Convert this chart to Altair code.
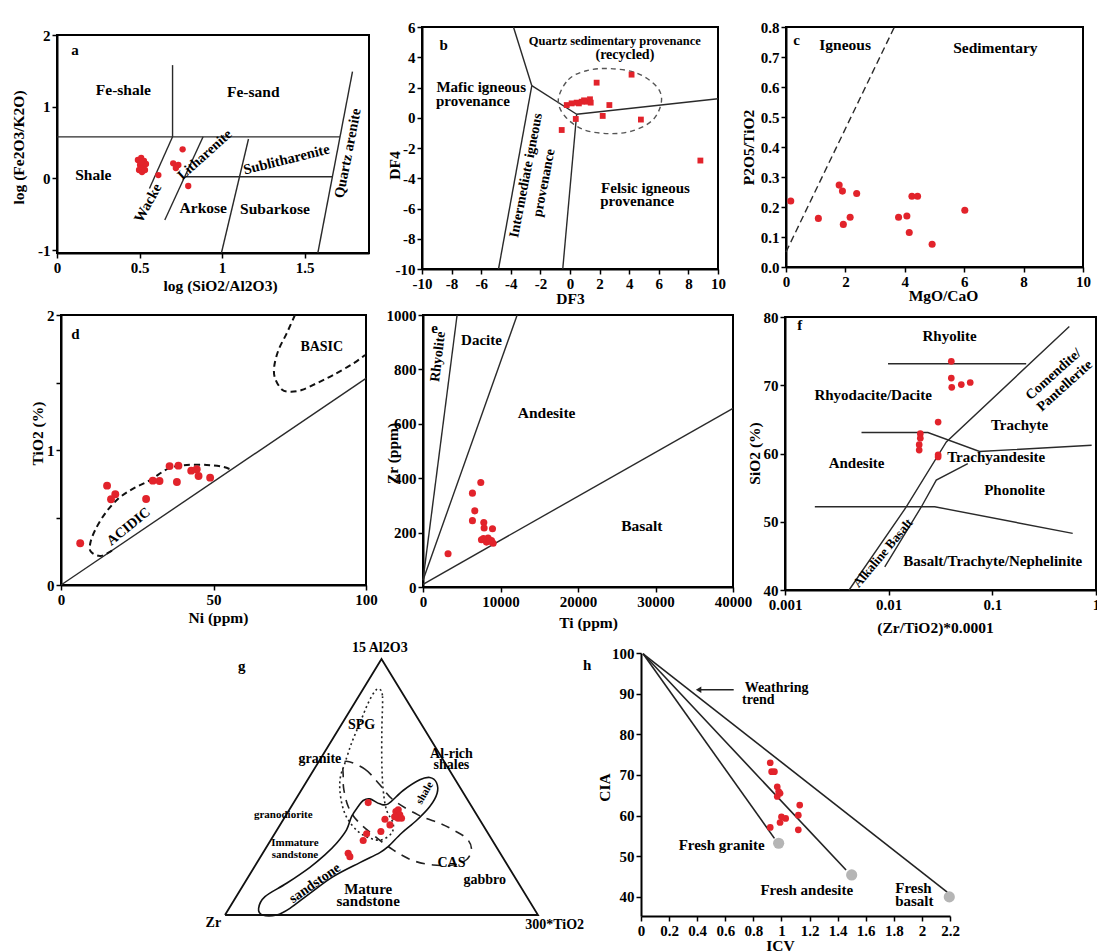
import altair as alt
import pandas as pd

W, H = 1097, 952
RED = "#e2232b"
GREY = "#b5b5b5"
INK = "#2a2a2a"
FONT = "Liberation Serif"

# ---------------- sample values ----------------
# a: log(SiO2/Al2O3) vs log(Fe2O3/K2O)
a_x = [0.49, 0.51, 0.527, 0.503, 0.521, 0.539, 0.497, 0.515, 0.533, 0.509, 0.614, 0.704, 0.735, 0.72, 0.761, 0.795]
a_y = [0.257, 0.285, 0.243, 0.187, 0.173, 0.201, 0.117, 0.089, 0.117, 0.229, 0.047, 0.211, 0.187, 0.145, 0.406, -0.106]
# b: DF3 vs DF4
b_x = [-0.22, 0.11, 0.45, 0.79, 1.13, 1.35, 1.40, 1.80, 2.66, 2.21, 0.39, -0.56, 4.16, 4.79, 8.81, 0.60, 0.95]
b_y = [0.84, 0.95, 1.00, 1.06, 1.06, 1.22, 1.00, 2.32, 0.84, 0.12, -0.08, -0.81, 2.85, -0.12, -2.83, 0.95, 1.15]
# c: MgO/CaO vs P2O5/TiO2
c_x = [0.16, 1.09, 1.79, 1.90, 1.93, 2.16, 2.38, 3.79, 4.07, 4.15, 4.24, 4.43, 4.92, 6.02]
c_y = [0.22, 0.162, 0.273, 0.253, 0.142, 0.166, 0.245, 0.166, 0.170, 0.115, 0.236, 0.236, 0.076, 0.189]
# d: Ni vs TiO2
d_x = [6.3, 15.1, 16.4, 17.8, 27.9, 30.1, 32.3, 35.6, 38.0, 38.5, 42.7, 44.5, 45.1, 48.9]
d_y = [0.309, 0.736, 0.635, 0.672, 0.637, 0.773, 0.770, 0.881, 0.763, 0.884, 0.847, 0.857, 0.807, 0.795]
# e: Ti vs Zr
e_x = [3233, 6379, 7457, 6681, 6379, 7845, 7888, 8966, 7543, 7974, 8405, 8836, 8190, 9052, 8400, 7800, 8600]
e_y = [122, 345, 384, 280, 244, 237, 217, 214, 174, 174, 174, 171, 165, 161, 180, 178, 168]
# f: (Zr/TiO2)*0.0001 vs SiO2
f_x = [0.0402, 0.0402, 0.0406, 0.0502, 0.0612, 0.030, 0.0202, 0.0202, 0.0197, 0.0197, 0.030, 0.030]
f_y = [73.5, 71.05, 69.7, 70.1, 70.4, 64.6, 62.9, 62.25, 61.3, 60.5, 59.8, 59.5]
# g: ternary 15Al2O3 / 300TiO2 shares in percent (Zr is the remainder)
g_al = [43.9, 40.4, 41.1, 39.1, 37.8, 37.8, 38.4, 37.4, 35.2, 32.6, 31.7, 29.1, 24.1, 22.8]
g_ti = [23.8, 34.4, 34.8, 36.3, 37.5, 36.4, 35.0, 32.4, 35.1, 33.5, 29.4, 29.6, 27.3, 28.5]
# h: ICV vs CIA
h_x = [0.92, 0.93, 0.95, 0.97, 0.98, 0.99, 0.97, 1.00, 1.03, 0.99, 1.12, 1.13, 1.12, 0.92]
h_y = [73.0, 70.8, 70.8, 67.1, 65.9, 65.5, 64.7, 59.7, 59.3, 58.3, 60.1, 62.6, 56.5, 57.1]
fresh_x = [0.98, 1.50, 2.195]
fresh_y = [53.2, 45.4, 40.0]

# ---------------- field boundaries ----------------
a_bounds = {
    "top": [(0, 0.58), (1.714, 0.58)],
    "fe": [(0.70, 0.58), (0.70, 1.58)],
    "wacke_l": [(0.70, 0.58), (0.56, -0.14)],
    "wacke_r": [(0.885, 0.58), (0.653, -0.58)],
    "sublith": [(0.996, -1.04), (1.16, 0.55)],
    "mid": [(0.776, 0.024), (1.668, 0.024)],
    "quartz": [(1.58, -1.04), (1.79, 1.49)],
}
b_bounds = {
    "q": [(-3.82, 6), (-2.58, 2.12)],
    "m": [(-2.58, 2.12), (0.45, 0.23)],
    "i1": [(-2.58, 2.12), (-4.83, -10)],
    "i2": [(0.45, 0.23), (-0.49, -10)],
    "f": [(0.45, 0.23), (10, 1.26)],
}
b_cluster = {"ring": [(-0.79, 1.20), (-0.11, 2.52), (1.12, 3.11), (2.70, 3.25), (4.49, 2.96), (5.84, 2.08),
                      (6.18, 1.09), (5.62, -0.12), (4.27, -0.85), (2.70, -1.05), (0.90, -0.78), (-0.34, 0.10)]}
c_bounds = {"div": [(0, 0.05), (3.65, 0.8)]}
d_bounds = {"div": [(0, 0), (100, 1.53)]}
d_fields = {
    "acidic": [(16.7, 0.254), (12.9, 0.215), (9.8, 0.247), (9.6, 0.309), (11.2, 0.407), (14.5, 0.531),
               (18.9, 0.642), (23.8, 0.716), (29.3, 0.778), (35.3, 0.864), (41.3, 0.889), (47.8, 0.889),
               (52.7, 0.877), (55.5, 0.857)],
    "basic": [(76.7, 2.0), (74.0, 1.864), (71.3, 1.74), (69.9, 1.617), (70.2, 1.53), (72.4, 1.449),
              (75.1, 1.432), (78.9, 1.444), (83.8, 1.494), (89.3, 1.556), (95.9, 1.642), (99.7, 1.704)],
}
e_bounds = {
    "r": [(0, 25), (4400, 1000)],
    "d": [(0, 25), (12150, 1000)],
    "b": [(0, 10), (40000, 657)],
}
f_bounds = {
    "rhy": [(0.00986, 73.15), (0.212, 73.15)],
    "and": [(0.00547, 63.07), (0.0239, 63.07), (0.0753, 60.3), (0.908, 61.2)],
    "alk_l": [(0.553, 78.6), (0.0360, 61.7), (0.01483, 52.2), (0.00415, 40.0)],
    "alk_r": [(0.058, 58.5), (0.0288, 56.1), (0.0207, 52.2), (0.00917, 43.4)],
    "bas": [(0.00194, 52.2), (0.0278, 52.2), (0.596, 48.3)],
}
g_triangle = {"tri": [(0, 0), (1, 0), (0.5, 1), (0, 0)]}
g_spg = {"spg": [(0.4926, 0.8827), (0.5032, 0.8540), (0.5011, 0.7236), (0.5011, 0.5932), (0.5053, 0.4889),
                 (0.5160, 0.4107), (0.5372, 0.3585), (0.5319, 0.3194), (0.5, 0.2934), (0.4628, 0.2999),
                 (0.4255, 0.3259), (0.3936, 0.3716), (0.3755, 0.4237), (0.3670, 0.4889), (0.3691, 0.5411),
                 (0.3830, 0.5932), (0.4043, 0.6714), (0.4309, 0.7497), (0.4574, 0.8279), (0.4787, 0.8735)]}
g_cas = {"cas": [(0.3830, 0.5997), (0.4468, 0.5698), (0.4947, 0.5085), (0.5372, 0.4498), (0.6170, 0.3911),
                 (0.6862, 0.3585), (0.7287, 0.3325), (0.7713, 0.2999), (0.7872, 0.2608), (0.7734, 0.2177),
                 (0.7287, 0.1956), (0.6649, 0.1956), (0.6011, 0.2125), (0.5372, 0.2542), (0.4734, 0.3129),
                 (0.4202, 0.3716), (0.3936, 0.4237), (0.3798, 0.4889), (0.3777, 0.5411)]}
g_sed = {"sed": [(0.4255, 0.4237), (0.4415, 0.4472), (0.4628, 0.4537), (0.4947, 0.4342), (0.5213, 0.4342),
                 (0.5691, 0.4863), (0.6223, 0.5280), (0.6543, 0.5372), (0.6755, 0.5176), (0.6777, 0.4759),
                 (0.6543, 0.4237), (0.6117, 0.3690), (0.5638, 0.3194), (0.5213, 0.2673), (0.4947, 0.2438),
                 (0.4309, 0.2047), (0.3457, 0.1499), (0.2713, 0.0847), (0.2074, 0.0261), (0.1649, 0.0),
                 (0.1202, 0.0), (0.1074, 0.0261), (0.1277, 0.0717), (0.1968, 0.1239), (0.2713, 0.1864),
                 (0.3191, 0.2347), (0.3564, 0.2803), (0.3883, 0.3325), (0.4043, 0.3846)]}
h_bounds = {
    "granite": [(0.015, 99.8), (0.95, 54.4)],
    "andesite": [(0.015, 99.8), (1.46, 46.6)],
    "basalt": [(0.015, 99.8), (2.18, 41.2)],
    "arrow": [(0.41, 90.96), (0.66, 90.96)],
}

# ---------------- labels: text, x, y, angle, font size ----------------
a_labels = [("a", 0.109, 1.79, 0, 15), ("Fe-shale", 0.402, 1.233, 0, 15.5), ("Fe-sand", 1.189, 1.209, 0, 15.5),
            ("Shale", 0.22, 0.047, 0, 15.5), ("Litharenite", 0.896, 0.326, 318, 14),
            ("Sublitharenite", 1.391, 0.257, 346, 14.5), ("Wacke", 0.553, -0.347, 299, 14.5),
            ("Arkose", 0.886, -0.417, 0, 15.5), ("Subarkose", 1.32, -0.431, 0, 15.5),
            ("Quartz arenite", 1.764, 0.35, 281, 14.5)]
b_labels = [("b", -8.54, 4.83, 0, 15), ("Quartz sedimentary provenance", 3.03, 5.05, 0, 12.5),
            ("(recycled)", 3.71, 4.17, 0, 14), ("Mafic igneous", -6.0, 2.04, 0, 15),
            ("provenance", -6.56, 1.09, 0, 15), ("Intermediate igneous", -2.97, -3.82, 281, 14),
            ("provenance", -1.75, -4.31, 281, 14), ("Felsic igneous", 5.1, -4.64, 0, 15),
            ("provenance", 4.54, -5.52, 0, 15)]
c_labels = [("c", 0.36, 0.758, 0, 15), ("Igneous", 1.99, 0.74, 0, 15.5), ("Sedimentary", 7.05, 0.73, 0, 15.5)]
d_labels = [("d", 4.7, 1.86, 0, 15), ("BASIC", 85.5, 1.765, 0, 14), ("ACIDIC", 22.2, 0.432, 321, 14)]
e_labels = [("e", 1509, 951, 0, 15), ("Rhyolite", 1940, 847, 277, 14), ("Dacite", 7543, 908, 0, 15),
            ("Andesite", 15948, 639, 0, 15.5), ("Basalt", 28233, 225, 0, 15.5)]
f_labels = [("f", 0.00139, 78.9, 0, 15), ("Rhyolite", 0.0387, 77.2, 0, 15),
            ("Rhyodacite/Dacite", 0.00708, 68.5, 0, 15), ("Trachyte", 0.183, 64.2, 0, 15),
            ("Comendite/", 0.39, 71.6, 318, 14), ("Pantellerite", 0.50, 69.9, 318, 14),
            ("Andesite", 0.0049, 58.6, 0, 15), ("Trachyandesite", 0.109, 59.55, 0, 15),
            ("Phonolite", 0.164, 54.6, 0, 15), ("Basalt/Trachyte/Nephelinite", 0.101, 44.3, 0, 15),
            ("Alkaline Basalt", 0.00883, 45.4, 310, 13)]
g_labels = [("15 Al2O3", 0.4947, 1.043, 0, 14), ("g", 0.0532, 0.971, 0, 15), ("SPG", 0.4362, 0.743, 0, 14),
            ("granite", 0.3032, 0.609, 0, 14), ("Al-rich", 0.7234, 0.630, 0, 14),
            ("shales", 0.7234, 0.587, 0, 14), ("granodiorite", 0.1862, 0.391, 0, 11),
            ("Immature", 0.2234, 0.280, 0, 11), ("sandstone", 0.2234, 0.235, 0, 11),
            ("shale", 0.6383, 0.476, 300, 11), ("sandstone", 0.2872, 0.1239, 325, 14),
            ("Mature", 0.4574, 0.100, 0, 15), ("sandstone", 0.4574, 0.056, 0, 15),
            ("CAS", 0.7234, 0.202, 0, 14), ("gabbro", 0.8298, 0.137, 0, 14),
            ("Zr", -0.0372, -0.0326, 0, 14), ("300*TiO2", 1.0532, -0.039, 0, 14)]
h_labels = [("h", -0.384, 97.0, 0, 15), ("Weathring", 0.965, 91.4, 0, 14), ("trend", 0.835, 88.5, 0, 14),
            ("Fresh granite", 0.574, 52.75, 0, 15), ("Fresh andesite", 1.18, 41.65, 0, 15),
            ("Fresh", 1.94, 42.2, 0, 15), ("basalt", 1.946, 39.0, 0, 15)]

# ---------------- panel placement (pixel ranges of each plot area) ----------------
P = {
    "a": dict(xd=[0, 1.89], xr=[57, 369], yd=[-1.04, 2], yr=[253, 35]),
    "b": dict(xd=[-10, 10], xr=[422, 718], yd=[-10, 6], yr=[269, 27]),
    "c": dict(xd=[0, 10], xr=[786, 1083], yd=[0, 0.8], yr=[267, 27]),
    "d": dict(xd=[0, 100], xr=[61, 366], yd=[0, 2], yr=[585, 315]),
    "e": dict(xd=[0, 40000], xr=[423, 733], yd=[0, 1000], yr=[587, 315]),
    "f": dict(xd=[0.001, 1], xr=[785, 1096], yd=[40, 80], yr=[590, 317], log=True),
    "g": dict(xd=[0, 1], xr=[225, 538], yd=[0, 1], yr=[915, 659]),
    "h": dict(xd=[0, 2.2], xr=[641, 950], yd=[35.3, 100], yr=[916, 653]),
}
PLAIN = "'' + datum.value"
AXES = {
    "a": dict(xv=[0, 0.5, 1, 1.5], yv=[-1, 0, 1, 2], xt="log (SiO2/Al2O3)", yt="log (Fe2O3/K2O)",
              xpos=(220, 32), ypos=(-39, 147)),
    "b": dict(xv=list(range(-10, 11, 2)), yv=list(range(-10, 7, 2)), xt="DF3", yt="DF4",
              xpos=(570, 29), ypos=(-28, 165)),
    "c": dict(xv=[0, 2, 4, 6, 8, 10], yv=[0, 0.1, 0.2, 0.3, 0.4, 0.5, 0.6, 0.7, 0.8],
              ylab="format(datum.value, '.1f')", xt="MgO/CaO", yt="P2O5/TiO2", xpos=(943, 28), ypos=(-38, 147)),
    "d": dict(xv=[0, 50, 100], yv=[0, 0.5, 1, 1.5, 2], ylab="datum.value % 1 == 0 ? '' + datum.value : ''",
              xt="Ni (ppm)", yt="TiO2 (%)", xpos=(218, 32), ypos=(-24, 433)),
    "e": dict(xv=[0, 10000, 20000, 30000, 40000], yv=[0, 200, 400, 600, 800, 1000],
              xt="Ti (ppm)", yt="Zr (ppm)", xpos=(588, 35), ypos=(-31, 453)),
    "f": dict(xv=[0.001, 0.01, 0.1, 1], yv=[40, 50, 60, 70, 80], xt="(Zr/TiO2)*0.0001", yt="SiO2 (%)",
              xpos=(935, 37), ypos=(-31, 453)),
    "h": dict(xv=[0, 0.2, 0.4, 0.6, 0.8, 1, 1.2, 1.4, 1.6, 1.8, 2, 2.2], yv=[40, 50, 60, 70, 80, 90, 100],
              xt="ICV", yt="CIA", xpos=(780, 29), ypos=(-37, 787)),
}


def xs(p):
    if p.get("log"):
        return alt.Scale(type="log", domain=p["xd"], range=p["xr"], nice=False)
    return alt.Scale(type="linear", domain=p["xd"], range=p["xr"], nice=False, zero=False)


def ys(p):
    return alt.Scale(type="linear", domain=p["yd"], range=p["yr"], nice=False, zero=False)


def enc(p, xf="x", yf="y"):
    return dict(x=alt.X(f"{xf}:Q", scale=xs(p), axis=None), y=alt.Y(f"{yf}:Q", scale=ys(p), axis=None))


def frame(key, box=True):
    p, ax = P[key], AXES[key]
    xaxis = alt.Axis(orient="bottom", offset=p["yr"][0] - H, values=ax["xv"], labelExpr=ax.get("xlab", PLAIN),
                     title=ax["xt"], titleX=ax["xpos"][0], titleY=ax["xpos"][1], titleBaseline="middle",
                     titleAlign="center", labelFlush=False, labelOverlap=False)
    yaxis = alt.Axis(orient="left", offset=-p["xr"][0], values=ax["yv"], labelExpr=ax.get("ylab", PLAIN),
                     title=ax["yt"], titleX=ax["ypos"][0], titleY=ax["ypos"][1], titleBaseline="middle",
                     titleAlign="center", titleAngle=270, labelFlush=False, labelOverlap=False)
    df = pd.DataFrame({"x0": [p["xd"][0]], "x1": [p["xd"][1]], "y0": [p["yd"][0]], "y1": [p["yd"][1]]})
    return alt.Chart(df).mark_rect(fillOpacity=0, stroke="black", strokeWidth=2,
                                   strokeOpacity=1 if box else 0).encode(
        x=alt.X("x0:Q", scale=xs(p), axis=xaxis), x2=alt.X2("x1"),
        y=alt.Y("y0:Q", scale=ys(p), axis=yaxis), y2=alt.Y2("y1"))


def lines(key, segs, dash=None, width=1.4, color=INK, interp="linear"):
    rows = []
    for name, pts in segs.items():
        for i, (x, y) in enumerate(pts):
            rows.append({"seg": name, "ord": i, "x": x, "y": y})
    kw = dict(color=color, strokeWidth=width, interpolate=interp)
    if dash:
        kw["strokeDash"] = dash
    return alt.Chart(pd.DataFrame(rows)).mark_line(**kw).encode(
        detail="seg:N", order="ord:Q", **enc(P[key]))


def points(key, xv, yv, color=RED, size=45, shape="circle"):
    df = pd.DataFrame({"x": xv, "y": yv})
    return alt.Chart(df).mark_point(filled=True, color=color, size=size, opacity=1, shape=shape).encode(**enc(P[key]))


def texts(key, labels):
    df = pd.DataFrame(labels, columns=["t", "x", "y", "ang", "sz"])
    return alt.Chart(df).mark_text(font=FONT, fontWeight="bold", color="black", align="center",
                                   baseline="middle").encode(
        text="t:N", angle=alt.Angle("ang:Q", scale=None), size=alt.Size("sz:Q", scale=None), **enc(P[key]))


# ternary projection: share of 300*TiO2 runs along the base, 15*Al2O3 towards the apex
g_tot = [100.0] * len(g_al)
g_u = [(t + a / 2) / s for a, t, s in zip(g_al, g_ti, g_tot)]
g_v = [a / s for a, s in zip(g_al, g_tot)]

layers = [
    # a
    frame("a"), lines("a", a_bounds), points("a", a_x, a_y, size=40), texts("a", a_labels),
    # b
    frame("b"), lines("b", b_bounds), lines("b", b_cluster, dash=[5, 4], color="#555555", interp="cardinal-closed"),
    points("b", b_x, b_y, size=34, shape="square"), texts("b", b_labels),
    # c
    frame("c"), lines("c", c_bounds, dash=[7, 4]), points("c", c_x, c_y, size=50), texts("c", c_labels),
    # d
    frame("d"), lines("d", d_bounds), lines("d", d_fields, dash=[6, 4], width=2, color="#111111", interp="cardinal"),
    points("d", d_x, d_y, size=62), texts("d", d_labels),
    # e
    frame("e"), lines("e", e_bounds), points("e", e_x, e_y, size=50), texts("e", e_labels),
    # f
    frame("f"), lines("f", f_bounds), points("f", f_x, f_y, size=45), texts("f", f_labels),
    # g
    lines("g", g_triangle, width=1.8, color="#111111"),
    lines("g", g_spg, dash=[2, 3], width=1.6, color="#222222", interp="cardinal-closed"),
    lines("g", g_cas, dash=[9, 7], width=1.6, color="#222222", interp="cardinal-closed"),
    lines("g", g_sed, width=1.6, color="#111111", interp="cardinal-closed"),
    points("g", g_u, g_v, size=50), texts("g", g_labels),
    # h
    frame("h", box=False), lines("h", h_bounds, width=1.6, color="#222222"),
    points("h", [0.41], [90.96], color="#222222", size=40, shape="triangle-left"),
    points("h", h_x, h_y, size=45), points("h", fresh_x, fresh_y, color=GREY, size=125),
    texts("h", h_labels),
]

chart = alt.layer(*layers).resolve_scale(x="independent", y="independent").properties(
    width=W, height=H, autosize="none", padding=0, background="white"
).configure_view(stroke=None).configure_axis(
    labelFont=FONT, labelFontSize=15, labelFontWeight="bold", labelColor="black",
    titleFont=FONT, titleFontSize=15.5, titleFontWeight="bold", titleColor="black",
    domainColor="black", domainWidth=2, tickColor="black", tickWidth=1.5, tickSize=5,
    labelPadding=2, grid=False,
)

chart.save("out.html", embed_options={"renderer": "svg", "actions": False})
